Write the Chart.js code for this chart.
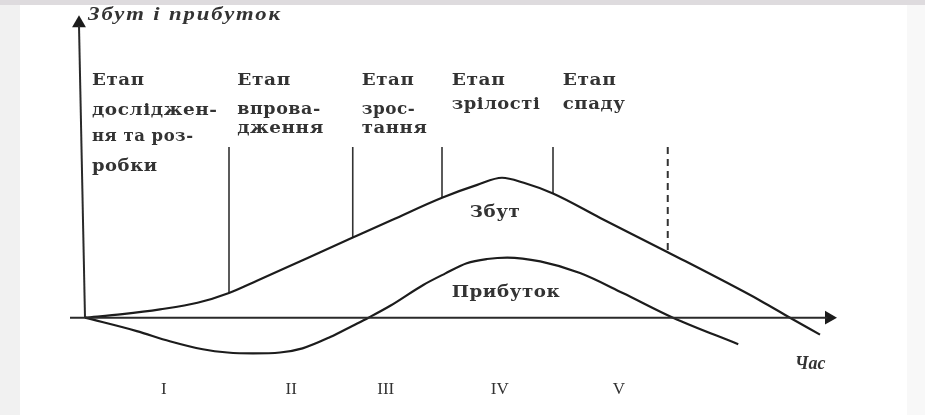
<!DOCTYPE html>
<html><head><meta charset="utf-8">
<script src="https://cdn.jsdelivr.net/npm/chart.js@4"></script>
<style>html,body{margin:0;padding:0;background:#fff;overflow:hidden}canvas{display:block}</style>
</head><body>
<canvas id="c" width="925" height="415"></canvas>
<script>
// ---- data (time units on x, value units on y) ----
const salesTime   = [0, 5, 10, 15, 19.2, 23, 27, 31.3, 35.7, 41, 47.6, 52.3, 55.6, 58.5, 62.4, 68.7, 77.7, 90, 94, 98];
const salesValue  = [0, 1.2, 2.8, 5.0, 8.3, 12.5, 17.0, 21.9, 26.9, 32.9, 40.3, 44.6, 47.0, 45.3, 41.7, 33.5, 22.0, 5.8, 0, -5.7];
const profitTime  = [0, 6.9, 11.3, 15.7, 19, 22.4, 26, 29, 32.7, 35.7, 37.8, 40.7, 45.1, 48, 50.9, 53.6, 56.3, 60.7, 66, 71.7, 78.4, 87.1];
const profitValue = [0, -4.5, -7.9, -10.6, -11.7, -12, -11.7, -10.3, -6.5, -2.7, 0, 4, 11, 14.8, 18.3, 19.7, 20.2, 18.9, 15, 8.3, 0, -8.9];
const stageBounds = [19.2, 35.7, 47.6, 62.4];
const declineEnd  = 77.7;
const stageTop    = 57.3;
const romanLabels = ['I', 'II', 'III', 'IV', 'V'];
const romanTime   = [10.5, 27.5, 40.1, 55.3, 71.2];
const stageTitles = [
  ['Етап', 'досліджен-', 'ня та роз-', 'робки'],
  ['Етап', 'впрова-', 'дження'],
  ['Етап', 'зрос-', 'тання'],
  ['Етап', 'зрілості'],
  ['Етап', 'спаду']
];
const yAxisTitle = 'Збут і прибуток';
const xAxisTitle = 'Час';
const salesName  = 'Збут';
const profitName = 'Прибуток';

// ---- helpers ----
const pts = (xs, ys) => xs.map((x, i) => ({x, y: ys[i]}));
const salesAt = t => salesValue[salesTime.indexOf(t)];
const stageLinePts = [];
stageBounds.forEach(t => { stageLinePts.push({x: t, y: stageTop}, {x: t, y: salesAt(t)}, {x: t, y: null}); });

const INK = '#1c1c1c';

// text layout (data units; rows are baselines)
const colLeft = [0.93, 20.3, 36.9, 48.9, 63.7];
const colRows = [[78.0, 68.0, 59.3, 49.3], [78.0, 68.3, 62.0], [78.0, 68.3, 62.0], [78.0, 70.0], [78.0, 70.0]];
const colWidths = [[52, 125, 101, 65], [53, 83, 86], [52, 53, 65], [53, 88], [53, 62]];

function fitText(ctx, s, x, y, target, ls) {
  ctx.letterSpacing = ls + 'px';
  const w = ctx.measureText(s).width - ls;
  const sx = target / w;
  ctx.save();
  ctx.translate(x, y);
  ctx.scale(sx, 1);
  ctx.fillText(s, 0, 0);
  ctx.restore();
  ctx.letterSpacing = '0px';
}

const bgPlugin = {
  id: 'bg',
  beforeDraw(chart) {
    const c = chart.ctx;
    c.save();
    c.fillStyle = '#ffffff'; c.fillRect(0, 0, chart.width, chart.height);
    c.fillStyle = '#f1f1f1'; c.fillRect(0, 0, 20, chart.height);
    c.fillStyle = '#f8f8f8'; c.fillRect(chart.width - 18, 0, 18, chart.height);
    c.fillStyle = '#dedbde'; c.fillRect(0, 0, chart.width, 5);
    c.restore();
  }
};

const textPlugin = {
  id: 'texts',
  afterDatasetsDraw(chart) {
    const c = chart.ctx, X = chart.scales.x, Y = chart.scales.y;
    c.save();
    c.fillStyle = '#333333';
    c.textAlign = 'left';
    c.textBaseline = 'alphabetic';
    // axis title (y)
    c.font = 'italic bold 18px "Liberation Serif"';
    fitText(c, yAxisTitle, X.getPixelForValue(0.4), Y.getPixelForValue(100), 192, 1.5);
    // stage titles
    c.font = 'bold 16px "DejaVu Serif"';
    stageTitles.forEach((lines, i) => {
      lines.forEach((s, j) => {
        fitText(c, s, X.getPixelForValue(colLeft[i]), Y.getPixelForValue(colRows[i][j]), colWidths[i][j], 0.5);
      });
    });
    // curve names
    fitText(c, salesName, X.getPixelForValue(51.3), Y.getPixelForValue(33.7), 50, 0.5);
    fitText(c, profitName, X.getPixelForValue(48.9), Y.getPixelForValue(7.0), 108, 0.5);
    // x title
    c.textBaseline = 'middle';
    c.textAlign = 'center';
    c.font = 'italic bold 18px "Liberation Serif"';
    c.fillText(xAxisTitle, X.getPixelForValue(96.7), Y.getPixelForValue(-15.7));
    // roman numerals
    c.font = '17px "Liberation Serif"';
    romanLabels.forEach((r, i) => c.fillText(r, X.getPixelForValue(romanTime[i]), Y.getPixelForValue(-24)));
    c.restore();
  }
};

const lineDs = (data, extra) => Object.assign({
  data, borderColor: INK, borderWidth: 2.2, pointRadius: 0, fill: false, clip: false,
  cubicInterpolationMode: 'monotone'
}, extra || {});

new Chart(document.getElementById('c'), {
  type: 'line',
  data: {
    datasets: [
      lineDs([{x: -2, y: 0}, {x: 99, y: 0}], {borderWidth: 2, borderColor: '#2a2a2a', cubicInterpolationMode: 'default', tension: 0}),
      lineDs([{x: 0, y: 0}, {x: -0.8, y: 98}], {borderWidth: 2, borderColor: '#2a2a2a', cubicInterpolationMode: 'default', tension: 0}),
      {data: [{x: -0.8, y: 98.9}], showLine: false, pointStyle: 'triangle', pointRadius: 8, pointRotation: 0,
       pointBackgroundColor: INK, pointBorderColor: INK, pointBorderWidth: 0, clip: false},
      {data: [{x: 99.2, y: 0}], showLine: false, pointStyle: 'triangle', pointRadius: 8, pointRotation: 90,
       pointBackgroundColor: INK, pointBorderColor: INK, pointBorderWidth: 0, clip: false},
      lineDs(pts(salesTime, salesValue)),
      lineDs(pts(profitTime, profitValue)),
      lineDs(stageLinePts, {borderWidth: 1.6, borderColor: '#333', spanGaps: false, cubicInterpolationMode: 'default', tension: 0}),
      lineDs([{x: declineEnd, y: stageTop}, {x: declineEnd, y: salesAt(declineEnd)}],
             {borderWidth: 2, borderColor: '#333', borderDash: [7, 5], cubicInterpolationMode: 'default', tension: 0})
    ]
  },
  options: {
    responsive: false,
    animation: false,
    devicePixelRatio: 1,
    layout: {padding: {left: 70, right: 90, top: 14, bottom: 5}},
    plugins: {legend: {display: false}, tooltip: {enabled: false}},
    scales: {
      x: {type: 'linear', min: -2, max: 100, display: false},
      y: {type: 'linear', min: -30, max: 102, display: false}
    }
  },
  plugins: [bgPlugin, textPlugin]
});
</script>
</body></html>
